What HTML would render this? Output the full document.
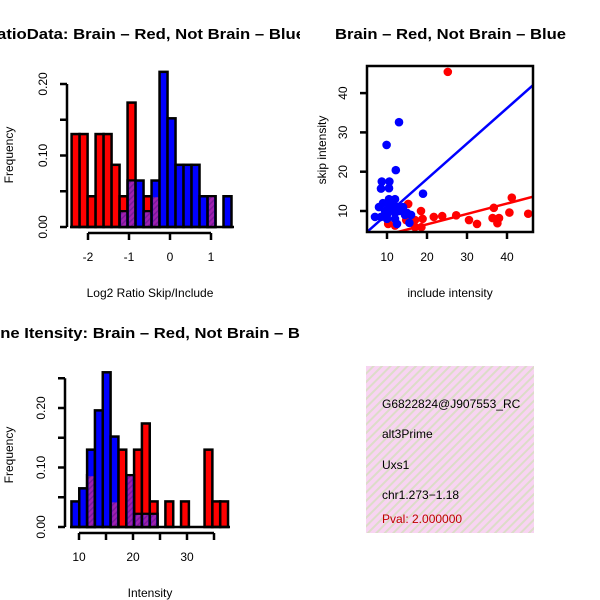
<!DOCTYPE html>
<html><head><meta charset="utf-8"><style>
html,body{margin:0;padding:0;background:#fff;}
svg{display:block;font-family:"Liberation Sans",sans-serif;}
</style></head><body>
<svg id="fig" width="600" height="600" viewBox="0 0 600 600" xmlns="http://www.w3.org/2000/svg">
<defs>
<clipPath id="clipL"><rect x="0" y="0" width="300" height="600"/></clipPath>
<pattern id="hatch" width="6" height="6" patternUnits="userSpaceOnUse" patternTransform="rotate(45)">
<rect width="6" height="6" fill="#f8d4f2"/><rect width="2" height="6" fill="#dcdcc8"/></pattern>
<pattern id="phatch" width="4" height="4" patternUnits="userSpaceOnUse" patternTransform="rotate(45)">
<rect width="4" height="4" fill="#a020b0"/><rect width="1.5" height="4" fill="#7a1a9a"/></pattern>
</defs>
<g clip-path="url(#clipL)">
<text x="-15" y="39" font-size="15" font-weight="bold" textLength="320" lengthAdjust="spacingAndGlyphs">RatioData: Brain – Red, Not Brain – Blue</text>
<text x="-22" y="338" font-size="15" font-weight="bold" textLength="346" lengthAdjust="spacingAndGlyphs">Gene Itensity: Brain – Red, Not Brain – Blue</text>
</g>
<text x="335" y="39" font-size="15" font-weight="bold" textLength="231" lengthAdjust="spacingAndGlyphs">Brain – Red, Not Brain – Blue</text>
<g id="p1"></g>
<g id="p2"></g>
<g id="p3"></g>
<g>
<rect x="366" y="366" width="168" height="167" fill="url(#hatch)"/>
<svg x="366" y="366" width="168" height="167">
<g font-size="12" fill="#000">
<text x="16" y="42">G6822824@J907553_RC</text>
<text x="16" y="72">alt3Prime</text>
<text x="16" y="103">Uxs1</text>
<text x="16" y="133">chr1.273−1.18</text>
<text x="16" y="157" fill="#c00000">Pval: 2.000000</text>
</g></svg>
</g>
</svg>
<script>
// Ratio histogram data
const ratioRed = [0.13,0.13,0.043,0.13,0.13,0.087,0.043,0.174,0,0.043,0.043,0,0,0,0,0,0,0.043,0,0];
const ratioBlue = [0,0,0,0,0,0,0.022,0.065,0.065,0.022,0.065,0.217,0.152,0.087,0.087,0.087,0.043,0.043,0,0.043];
const ratioXTicks = [-2,-1,0,1];
const ratioYTicks = [0,0.05,0.10,0.15,0.20];
const ratioYLabels = ["0.00","","0.10","","0.20"];
// Intensity histogram data
const intRed = [0,0,0.087,0,0,0.043,0.13,0.087,0.13,0.174,0.043,0,0.043,0,0.043,0,0,0.13,0.043,0.043];
const intBlue = [0.043,0.065,0.13,0.196,0.26,0.152,0,0.087,0.022,0.022,0.022,0,0,0,0,0,0,0,0,0];
const intXTicks = [10,15,20,25,30,35];
const intXLabels = ["10","","20","","30",""];
const intYTicks = [0,0.05,0.10,0.15,0.20,0.25];
const intYLabels = ["0.00","","0.10","","0.20",""];
// Scatter data
const redX = [25.2,15.3,18.5,17,18.9,21.7,23.8,27.3,30.5,32.5,36.7,41.2,40.6,45.3,36.4,38,37.6,10.3,12,17,18.6,14.8];
const redY = [45.4,11.8,10,7.7,8,8.5,8.7,8.9,7.7,6.7,10.8,13.4,9.6,9.3,8.2,8.2,6.9,6.7,6.3,5.9,5.9,7.7];
const blueX = [13,9.9,12.2,8.7,10.6,8.5,10.5,19,7,8,9,9.5,10,10.5,11,11.5,12,12.5,13,14,14.5,15,16,8.5,10,12,12.5,15.6,10.5,12];
const blueY = [32.6,26.8,20.4,17.5,17.5,15.7,15.8,14.4,8.5,11,12,10,9,11.5,10.5,12,9.5,11,10,11,9,9.5,9,8.5,8,8,6.7,7,13,13];
const redFit = [1.3,0.265];
const blueFit = [0.16,0.9];
const scXTicks = [10,20,30,40];
const scYTicks = [10,20,30,40];

const NS="http://www.w3.org/2000/svg";
function mk(parent,tag,attrs,txt){const e=document.createElementNS(NS,tag);for(const k in attrs)e.setAttribute(k,attrs[k]);if(txt!==undefined)e.textContent=txt;parent.appendChild(e);return e;}

function hist(g,red,blue,x0,bw,sx,sy,name){
  for(let i=0;i<red.length;i++){ if(!red[i])continue;
    const r=mk(g,'rect',{x:sx(x0+i*bw),y:sy(red[i]),width:sx(x0+bw)-sx(x0),height:sy(0)-sy(red[i]),fill:'#ff0000',stroke:'#000','stroke-width':2.5});
    
    }
  for(let i=0;i<blue.length;i++){ if(!blue[i])continue;
    const r=mk(g,'rect',{x:sx(x0+i*bw),y:sy(blue[i]),width:sx(x0+bw)-sx(x0),height:sy(0)-sy(blue[i]),fill:'#0000ff',stroke:'#000','stroke-width':2.5});
    
    }
  for(let i=0;i<blue.length;i++){ const m=Math.min(red[i]||0,blue[i]); if(!m)continue;
    const r=mk(g,'rect',{x:sx(x0+i*bw)+1.5,y:sy(m)+1,width:sx(x0+bw)-sx(x0)-3,height:sy(0)-sy(m)-2,fill:'url(#phatch)'});
    
    }
}
function yAxis(g,x,ticks,labels,sy){
  mk(g,'line',{x1:x,x2:x,y1:sy(ticks[0]),y2:sy(ticks[ticks.length-1]),stroke:'#000','stroke-width':2.5});
  ticks.forEach((t,i)=>{mk(g,'line',{x1:x-7,x2:x,y1:sy(t),y2:sy(t),stroke:'#000','stroke-width':2.5});
    if(labels[i]){const tx=mk(g,'text',{x:0,y:0,'font-size':12,'text-anchor':'middle',transform:`translate(${x-20},${sy(t)}) rotate(-90)`},labels[i]);
    
    }});
}
function xAxis(g,y,ticks,labels,sx){
  mk(g,'line',{x1:sx(ticks[0]),x2:sx(ticks[ticks.length-1]),y1:y,y2:y,stroke:'#000','stroke-width':2.5});
  ticks.forEach((t,i)=>{mk(g,'line',{x1:sx(t),x2:sx(t),y1:y,y2:y+7,stroke:'#000','stroke-width':2.5});
    if(labels[i]){const tx=mk(g,'text',{x:sx(t),y:y+28,'font-size':12,'text-anchor':'middle'},labels[i]);
    
    }});
}
function label(g,x,y,txt,rot,name){const t=mk(g,'text',{x:0,y:0,'font-size':12,'text-anchor':'middle',transform:`translate(${x},${y})`+(rot?' rotate(-90)':'')},txt);
  
  }

// Plot 1
{const g=document.getElementById('p1');
 const sx=v=>170+v*41, sy=v=>227-v*715;
 hist(g,ratioRed,ratioBlue,-2.4,0.195,sx,sy,'ratio');
 mk(g,'line',{x1:70,x2:234,y1:227,y2:227,stroke:'#000','stroke-width':2.5});
 yAxis(g,67,ratioYTicks,ratioYLabels,sy);
 xAxis(g,233,ratioXTicks,ratioXTicks.map(String),sx);
 label(g,150,297,'Log2 Ratio Skip/Include',false,'x-axis-title');
 label(g,13,155,'Frequency',true,'y-axis-title');}
// Plot 3
{const g=document.getElementById('p3');
 const sx=v=>79+(v-10)*5.4, sy=v=>527-v*595;
 hist(g,intRed,intBlue,8.6,1.45,sx,sy,'intensity');
 mk(g,'line',{x1:70,x2:230,y1:527,y2:527,stroke:'#000','stroke-width':2.5});
 yAxis(g,65,intYTicks,intYLabels,sy);
 xAxis(g,533,intXTicks,intXLabels,sx);
 label(g,150,597,'Intensity',false,'x-axis-title');
 label(g,13,455,'Frequency',true,'y-axis-title');}
// Plot 2
{const g=document.getElementById('p2');
 const sx=v=>387+(v-10)*4, sy=v=>211-(v-10)*3.93;
 const xmin=5,xmax=46.5;
 const cp=mk(g,'clipPath',{id:'scclip'}); mk(cp,'rect',{x:367,y:66,width:166,height:166});
 const pg=mk(g,'g',{'clip-path':'url(#scclip)'});
 for(let i=0;i<redX.length;i++){const c=mk(pg,'circle',{cx:sx(redX[i]),cy:sy(redY[i]),r:4.3,fill:'#ff0000'});
  
  }
 for(let i=0;i<blueX.length;i++){const c=mk(pg,'circle',{cx:sx(blueX[i]),cy:sy(blueY[i]),r:4.3,fill:'#0000ff'});
  
  }
 const rl=mk(pg,'line',{x1:sx(xmin),y1:sy(redFit[0]+redFit[1]*xmin),x2:sx(xmax),y2:sy(redFit[0]+redFit[1]*xmax),stroke:'#ff0000','stroke-width':2.5});
 
 
 const bl=mk(pg,'line',{x1:sx(xmin),y1:sy(blueFit[0]+blueFit[1]*xmin),x2:sx(xmax),y2:sy(blueFit[0]+blueFit[1]*xmax),stroke:'#0000ff','stroke-width':2.5});
 
 
 mk(g,'rect',{x:367,y:66,width:166,height:166,fill:'none',stroke:'#000','stroke-width':2.5});
 scYTicks.forEach(t=>{mk(g,'line',{x1:360,x2:367,y1:sy(t),y2:sy(t),stroke:'#000','stroke-width':2.5});
   const tx=mk(g,'text',{x:0,y:0,'font-size':12,'text-anchor':'middle',transform:`translate(${347},${sy(t)}) rotate(-90)`},String(t));
   
   });
 scXTicks.forEach(t=>{mk(g,'line',{x1:sx(t),x2:sx(t),y1:232,y2:239,stroke:'#000','stroke-width':2.5});
   const tx=mk(g,'text',{x:sx(t),y:261,'font-size':12,'text-anchor':'middle'},String(t));
   
   });
 label(g,450,297,'include intensity',false,'x-axis-title');
 label(g,326,150,'skip intensity',true,'y-axis-title');}
</script>
</body></html>
